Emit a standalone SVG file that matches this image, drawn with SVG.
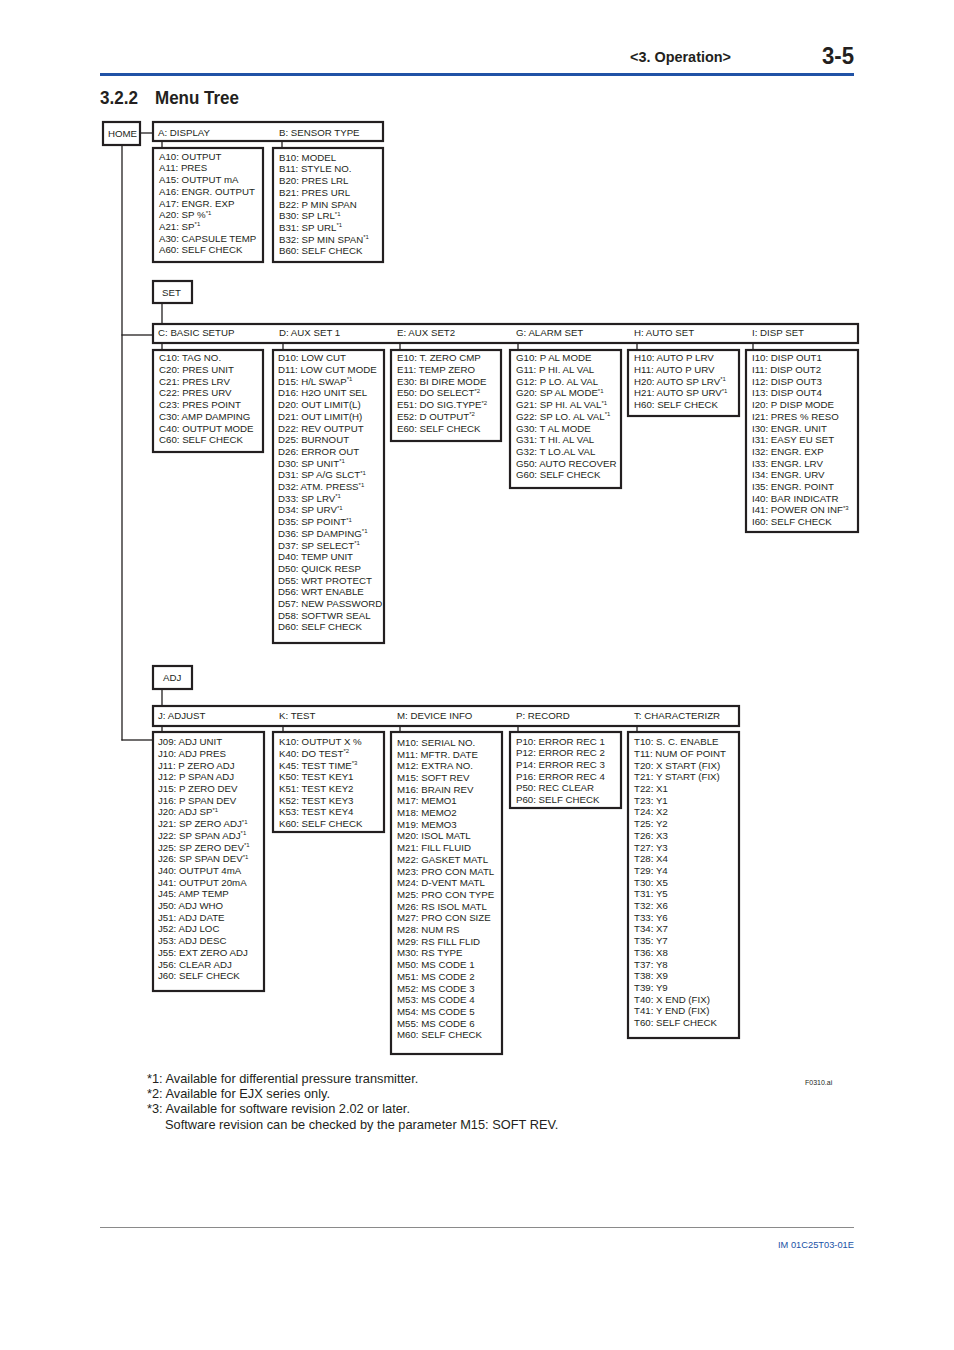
<svg xmlns="http://www.w3.org/2000/svg" width="954" height="1350" viewBox="0 0 954 1350">
<style>
.bg{fill:#fff}
.box{fill:#fff;stroke:#231f20;stroke-width:2.2}
.ln{stroke:#231f20;stroke-width:1.3;fill:none}
.t{font-family:"Liberation Sans",Arial,sans-serif;font-size:9.7px;fill:#231f20}
.s{font-size:6px}
.fn{font-family:"Liberation Sans",Arial,sans-serif;font-size:12.8px;fill:#231f20}
.hd{font-family:"Liberation Sans",Arial,sans-serif;font-weight:bold;fill:#231f20}
</style>
<rect class="bg" x="0" y="0" width="954" height="1350"/>
<g id="page-header">
<text class="hd" x="630" y="62" font-size="14.5" textLength="101" lengthAdjust="spacingAndGlyphs">&lt;3. Operation&gt;</text>
<text class="hd" x="822" y="64" font-size="23" textLength="32" lengthAdjust="spacingAndGlyphs">3-5</text>
<line x1="100" y1="74.5" x2="854" y2="74.5" stroke="#2052a6" stroke-width="3"/>
<text class="hd" x="100" y="104" font-size="17.5" textLength="38" lengthAdjust="spacingAndGlyphs">3.2.2</text>
<text class="hd" x="155" y="104" font-size="17.5" textLength="84" lengthAdjust="spacingAndGlyphs">Menu Tree</text>
</g>
<g id="connectors">
<line class="ln" x1="140" y1="133" x2="153" y2="133"/>
<line class="ln" x1="122" y1="145" x2="122" y2="740.5"/>
<line class="ln" x1="121.4" y1="335" x2="153" y2="335"/>
<line class="ln" x1="121.4" y1="740" x2="153" y2="740"/>
<line class="ln" x1="162" y1="303" x2="162" y2="324"/>
<line class="ln" x1="162" y1="689" x2="162" y2="706"/>
<line class="ln" x1="162" y1="141" x2="162" y2="148"/>
<line class="ln" x1="282" y1="141" x2="282" y2="148"/>
<line class="ln" x1="162" y1="343" x2="162" y2="350"/>
<line class="ln" x1="283" y1="343" x2="283" y2="350"/>
<line class="ln" x1="400" y1="343" x2="400" y2="350"/>
<line class="ln" x1="518" y1="343" x2="518" y2="350"/>
<line class="ln" x1="637" y1="343" x2="637" y2="350"/>
<line class="ln" x1="753" y1="343" x2="753" y2="350"/>
<line class="ln" x1="162" y1="726" x2="162" y2="732"/>
<line class="ln" x1="283" y1="726" x2="283" y2="732"/>
<line class="ln" x1="400" y1="726" x2="400" y2="732"/>
<line class="ln" x1="518" y1="726" x2="518" y2="732"/>
<line class="ln" x1="637" y1="726" x2="637" y2="732"/>
</g>
<g id="home">
<rect class="box" x="103" y="122" width="37" height="23"/>
<text class="t" x="108" y="137">HOME</text>
</g>
<g id="bar-ab">
<rect class="box" x="153" y="122" width="230" height="19"/>
<text class="t" x="158" y="136">A: DISPLAY</text>
<text class="t" x="279" y="136">B: SENSOR TYPE</text>
</g>
<g id="box-a">
<rect class="box" x="153" y="148" width="110" height="114"/>
<text class="t"><tspan x="159" y="159.7">A10: OUTPUT</tspan><tspan x="159" y="171.4">A11: PRES</tspan><tspan x="159" y="183.1">A15: OUTPUT mA</tspan><tspan x="159" y="194.8">A16: ENGR. OUTPUT</tspan><tspan x="159" y="206.5">A17: ENGR. EXP</tspan><tspan x="159" y="218.2">A20: SP %<tspan class="s" dy="-3.5">*1</tspan></tspan><tspan x="159" y="229.9">A21: SP<tspan class="s" dy="-3.5">*1</tspan></tspan><tspan x="159" y="241.6">A30: CAPSULE TEMP</tspan><tspan x="159" y="253.3">A60: SELF CHECK</tspan></text>
</g>
<g id="box-b">
<rect class="box" x="273" y="148" width="110" height="114"/>
<text class="t"><tspan x="279" y="160.7">B10: MODEL</tspan><tspan x="279" y="172.4">B11: STYLE NO.</tspan><tspan x="279" y="184.1">B20: PRES LRL</tspan><tspan x="279" y="195.8">B21: PRES URL</tspan><tspan x="279" y="207.5">B22: P MIN SPAN</tspan><tspan x="279" y="219.2">B30: SP LRL<tspan class="s" dy="-3.5">*1</tspan></tspan><tspan x="279" y="230.9">B31: SP URL<tspan class="s" dy="-3.5">*1</tspan></tspan><tspan x="279" y="242.6">B32: SP MIN SPAN<tspan class="s" dy="-3.5">*1</tspan></tspan><tspan x="279" y="254.3">B60: SELF CHECK</tspan></text>
</g>
<g id="set">
<rect class="box" x="153" y="281" width="39" height="22"/>
<text class="t" x="162" y="296">SET</text>
</g>
<g id="bar-cdeghi">
<rect class="box" x="153" y="324" width="705" height="19"/>
<text class="t" x="158" y="336">C: BASIC SETUP</text>
<text class="t" x="279" y="336">D: AUX SET 1</text>
<text class="t" x="397" y="336">E: AUX SET2</text>
<text class="t" x="516" y="336">G: ALARM SET</text>
<text class="t" x="634" y="336">H: AUTO SET</text>
<text class="t" x="752" y="336">I: DISP SET</text>
</g>
<g id="box-c">
<rect class="box" x="153" y="350" width="110" height="102"/>
<text class="t"><tspan x="159" y="361.3">C10: TAG NO.</tspan><tspan x="159" y="373">C20: PRES UNIT</tspan><tspan x="159" y="384.7">C21: PRES LRV</tspan><tspan x="159" y="396.4">C22: PRES URV</tspan><tspan x="159" y="408.1">C23: PRES POINT</tspan><tspan x="159" y="419.8">C30: AMP DAMPING</tspan><tspan x="159" y="431.5">C40: OUTPUT MODE</tspan><tspan x="159" y="443.2">C60: SELF CHECK</tspan></text>
</g>
<g id="box-d">
<rect class="box" x="273" y="350" width="111" height="293"/>
<text class="t"><tspan x="278" y="361.3">D10: LOW CUT</tspan><tspan x="278" y="373">D11: LOW CUT MODE</tspan><tspan x="278" y="384.7">D15: H/L SWAP<tspan class="s" dy="-3.5">*1</tspan></tspan><tspan x="278" y="396.4">D16: H2O UNIT SEL</tspan><tspan x="278" y="408.1">D20: OUT LIMIT(L)</tspan><tspan x="278" y="419.8">D21: OUT LIMIT(H)</tspan><tspan x="278" y="431.5">D22: REV OUTPUT</tspan><tspan x="278" y="443.2">D25: BURNOUT</tspan><tspan x="278" y="454.9">D26: ERROR OUT</tspan><tspan x="278" y="466.6">D30: SP UNIT<tspan class="s" dy="-3.5">*1</tspan></tspan><tspan x="278" y="478.3">D31: SP A/G SLCT<tspan class="s" dy="-3.5">*1</tspan></tspan><tspan x="278" y="490">D32: ATM. PRESS<tspan class="s" dy="-3.5">*1</tspan></tspan><tspan x="278" y="501.7">D33: SP LRV<tspan class="s" dy="-3.5">*1</tspan></tspan><tspan x="278" y="513.4">D34: SP URV<tspan class="s" dy="-3.5">*1</tspan></tspan><tspan x="278" y="525.1">D35: SP POINT<tspan class="s" dy="-3.5">*1</tspan></tspan><tspan x="278" y="536.8">D36: SP DAMPING<tspan class="s" dy="-3.5">*1</tspan></tspan><tspan x="278" y="548.5">D37: SP SELECT<tspan class="s" dy="-3.5">*1</tspan></tspan><tspan x="278" y="560.2">D40: TEMP UNIT</tspan><tspan x="278" y="571.9">D50: QUICK RESP</tspan><tspan x="278" y="583.6">D55: WRT PROTECT</tspan><tspan x="278" y="595.3">D56: WRT ENABLE</tspan><tspan x="278" y="607">D57: NEW PASSWORD</tspan><tspan x="278" y="618.7">D58: SOFTWR SEAL</tspan><tspan x="278" y="630.4">D60: SELF CHECK</tspan></text>
</g>
<g id="box-e">
<rect class="box" x="391" y="350" width="110" height="91"/>
<text class="t"><tspan x="397" y="361.3">E10: T. ZERO CMP</tspan><tspan x="397" y="373">E11: TEMP ZERO</tspan><tspan x="397" y="384.7">E30: BI DIRE MODE</tspan><tspan x="397" y="396.4">E50: DO SELECT<tspan class="s" dy="-3.5">*2</tspan></tspan><tspan x="397" y="408.1">E51: DO SIG.TYPE<tspan class="s" dy="-3.5">*2</tspan></tspan><tspan x="397" y="419.8">E52: D OUTPUT<tspan class="s" dy="-3.5">*2</tspan></tspan><tspan x="397" y="431.5">E60: SELF CHECK</tspan></text>
</g>
<g id="box-g">
<rect class="box" x="510" y="350" width="111" height="138"/>
<text class="t"><tspan x="516" y="361.3">G10: P AL MODE</tspan><tspan x="516" y="373">G11: P HI. AL VAL</tspan><tspan x="516" y="384.7">G12: P LO. AL VAL</tspan><tspan x="516" y="396.4">G20: SP AL MODE<tspan class="s" dy="-3.5">*1</tspan></tspan><tspan x="516" y="408.1">G21: SP HI. AL VAL<tspan class="s" dy="-3.5">*1</tspan></tspan><tspan x="516" y="419.8">G22: SP LO. AL VAL<tspan class="s" dy="-3.5">*1</tspan></tspan><tspan x="516" y="431.5">G30: T AL MODE</tspan><tspan x="516" y="443.2">G31: T HI. AL VAL</tspan><tspan x="516" y="454.9">G32: T LO.AL VAL</tspan><tspan x="516" y="466.6">G50: AUTO RECOVER</tspan><tspan x="516" y="478.3">G60: SELF CHECK</tspan></text>
</g>
<g id="box-h">
<rect class="box" x="628" y="350" width="111" height="66"/>
<text class="t"><tspan x="634" y="361.3">H10: AUTO P LRV</tspan><tspan x="634" y="373">H11: AUTO P URV</tspan><tspan x="634" y="384.7">H20: AUTO SP LRV<tspan class="s" dy="-3.5">*1</tspan></tspan><tspan x="634" y="396.4">H21: AUTO SP URV<tspan class="s" dy="-3.5">*1</tspan></tspan><tspan x="634" y="408.1">H60: SELF CHECK</tspan></text>
</g>
<g id="box-i">
<rect class="box" x="746" y="350" width="112" height="182"/>
<text class="t"><tspan x="752" y="361.3">I10: DISP OUT1</tspan><tspan x="752" y="373">I11: DISP OUT2</tspan><tspan x="752" y="384.7">I12: DISP OUT3</tspan><tspan x="752" y="396.4">I13: DISP OUT4</tspan><tspan x="752" y="408.1">I20: P DISP MODE</tspan><tspan x="752" y="419.8">I21: PRES % RESO</tspan><tspan x="752" y="431.5">I30: ENGR. UNIT</tspan><tspan x="752" y="443.2">I31: EASY EU SET</tspan><tspan x="752" y="454.9">I32: ENGR. EXP</tspan><tspan x="752" y="466.6">I33: ENGR. LRV</tspan><tspan x="752" y="478.3">I34: ENGR. URV</tspan><tspan x="752" y="490">I35: ENGR. POINT</tspan><tspan x="752" y="501.7">I40: BAR INDICATR</tspan><tspan x="752" y="513.4">I41: POWER ON INF<tspan class="s" dy="-3.5">*3</tspan></tspan><tspan x="752" y="525.1">I60: SELF CHECK</tspan></text>
</g>
<g id="adj">
<rect class="box" x="153" y="666" width="39" height="23"/>
<text class="t" x="163" y="681">ADJ</text>
</g>
<g id="bar-jkmpt">
<rect class="box" x="153" y="706" width="586" height="20"/>
<text class="t" x="158" y="719">J: ADJUST</text>
<text class="t" x="279" y="719">K: TEST</text>
<text class="t" x="397" y="719">M: DEVICE INFO</text>
<text class="t" x="516" y="719">P: RECORD</text>
<text class="t" x="634" y="719">T: CHARACTERIZR</text>
</g>
<g id="box-j">
<rect class="box" x="153" y="732" width="111" height="259"/>
<text class="t"><tspan x="158" y="745.2">J09: ADJ UNIT</tspan><tspan x="158" y="756.9">J10: ADJ PRES</tspan><tspan x="158" y="768.6">J11: P ZERO ADJ</tspan><tspan x="158" y="780.3">J12: P SPAN ADJ</tspan><tspan x="158" y="792">J15: P ZERO DEV</tspan><tspan x="158" y="803.7">J16: P SPAN DEV</tspan><tspan x="158" y="815.4">J20: ADJ SP<tspan class="s" dy="-3.5">*1</tspan></tspan><tspan x="158" y="827.1">J21: SP ZERO ADJ<tspan class="s" dy="-3.5">*1</tspan></tspan><tspan x="158" y="838.8">J22: SP SPAN ADJ<tspan class="s" dy="-3.5">*1</tspan></tspan><tspan x="158" y="850.5">J25: SP ZERO DEV<tspan class="s" dy="-3.5">*1</tspan></tspan><tspan x="158" y="862.2">J26: SP SPAN DEV<tspan class="s" dy="-3.5">*1</tspan></tspan><tspan x="158" y="873.9">J40: OUTPUT 4mA</tspan><tspan x="158" y="885.6">J41: OUTPUT 20mA</tspan><tspan x="158" y="897.3">J45: AMP TEMP</tspan><tspan x="158" y="909">J50: ADJ WHO</tspan><tspan x="158" y="920.7">J51: ADJ DATE</tspan><tspan x="158" y="932.4">J52: ADJ LOC</tspan><tspan x="158" y="944.1">J53: ADJ DESC</tspan><tspan x="158" y="955.8">J55: EXT ZERO ADJ</tspan><tspan x="158" y="967.5">J56: CLEAR ADJ</tspan><tspan x="158" y="979.2">J60: SELF CHECK</tspan></text>
</g>
<g id="box-k">
<rect class="box" x="273" y="732" width="111" height="100"/>
<text class="t"><tspan x="279" y="745.2">K10: OUTPUT X %</tspan><tspan x="279" y="756.9">K40: DO TEST<tspan class="s" dy="-3.5">*2</tspan></tspan><tspan x="279" y="768.6">K45: TEST TIME<tspan class="s" dy="-3.5">*3</tspan></tspan><tspan x="279" y="780.3">K50: TEST KEY1</tspan><tspan x="279" y="792">K51: TEST KEY2</tspan><tspan x="279" y="803.7">K52: TEST KEY3</tspan><tspan x="279" y="815.4">K53: TEST KEY4</tspan><tspan x="279" y="827.1">K60: SELF CHECK</tspan></text>
</g>
<g id="box-m">
<rect class="box" x="391" y="732" width="111" height="322"/>
<text class="t"><tspan x="397" y="745.8">M10: SERIAL NO.</tspan><tspan x="397" y="757.5">M11: MFTR. DATE</tspan><tspan x="397" y="769.2">M12: EXTRA NO.</tspan><tspan x="397" y="780.9">M15: SOFT REV</tspan><tspan x="397" y="792.6">M16: BRAIN REV</tspan><tspan x="397" y="804.3">M17: MEMO1</tspan><tspan x="397" y="816">M18: MEMO2</tspan><tspan x="397" y="827.7">M19: MEMO3</tspan><tspan x="397" y="839.4">M20: ISOL MATL</tspan><tspan x="397" y="851.1">M21: FILL FLUID</tspan><tspan x="397" y="862.8">M22: GASKET MATL</tspan><tspan x="397" y="874.5">M23: PRO CON MATL</tspan><tspan x="397" y="886.2">M24: D-VENT MATL</tspan><tspan x="397" y="897.9">M25: PRO CON TYPE</tspan><tspan x="397" y="909.6">M26: RS ISOL MATL</tspan><tspan x="397" y="921.3">M27: PRO CON SIZE</tspan><tspan x="397" y="933">M28: NUM RS</tspan><tspan x="397" y="944.7">M29: RS FILL FLID</tspan><tspan x="397" y="956.4">M30: RS TYPE</tspan><tspan x="397" y="968.1">M50: MS CODE 1</tspan><tspan x="397" y="979.8">M51: MS CODE 2</tspan><tspan x="397" y="991.5">M52: MS CODE 3</tspan><tspan x="397" y="1003.2">M53: MS CODE 4</tspan><tspan x="397" y="1014.9">M54: MS CODE 5</tspan><tspan x="397" y="1026.6">M55: MS CODE 6</tspan><tspan x="397" y="1038.3">M60: SELF CHECK</tspan></text>
</g>
<g id="box-p">
<rect class="box" x="510" y="732" width="111" height="76"/>
<text class="t"><tspan x="516" y="744.5">P10: ERROR REC 1</tspan><tspan x="516" y="756.2">P12: ERROR REC 2</tspan><tspan x="516" y="767.9">P14: ERROR REC 3</tspan><tspan x="516" y="779.6">P16: ERROR REC 4</tspan><tspan x="516" y="791.3">P50: REC CLEAR</tspan><tspan x="516" y="803">P60: SELF CHECK</tspan></text>
</g>
<g id="box-t">
<rect class="box" x="628" y="732" width="111" height="306"/>
<text class="t"><tspan x="634" y="745.2">T10: S. C. ENABLE</tspan><tspan x="634" y="756.9">T11: NUM OF POINT</tspan><tspan x="634" y="768.6">T20: X START (FIX)</tspan><tspan x="634" y="780.3">T21: Y START (FIX)</tspan><tspan x="634" y="792">T22: X1</tspan><tspan x="634" y="803.7">T23: Y1</tspan><tspan x="634" y="815.4">T24: X2</tspan><tspan x="634" y="827.1">T25: Y2</tspan><tspan x="634" y="838.8">T26: X3</tspan><tspan x="634" y="850.5">T27: Y3</tspan><tspan x="634" y="862.2">T28: X4</tspan><tspan x="634" y="873.9">T29: Y4</tspan><tspan x="634" y="885.6">T30: X5</tspan><tspan x="634" y="897.3">T31: Y5</tspan><tspan x="634" y="909">T32: X6</tspan><tspan x="634" y="920.7">T33: Y6</tspan><tspan x="634" y="932.4">T34: X7</tspan><tspan x="634" y="944.1">T35: Y7</tspan><tspan x="634" y="955.8">T36: X8</tspan><tspan x="634" y="967.5">T37: Y8</tspan><tspan x="634" y="979.2">T38: X9</tspan><tspan x="634" y="990.9">T39: Y9</tspan><tspan x="634" y="1002.6">T40: X END (FIX)</tspan><tspan x="634" y="1014.3">T41: Y END (FIX)</tspan><tspan x="634" y="1026">T60: SELF CHECK</tspan></text>
</g>
<g id="notes">
<text class="fn" x="147" y="1082.5">*1: Available for differential pressure transmitter.</text>
<text class="fn" x="147" y="1097.5">*2: Available for EJX series only.</text>
<text class="fn" x="147" y="1112.8">*3: Available for software revision 2.02 or later.</text>
<text class="fn" x="165" y="1128.5">Software revision can be checked by the parameter M15: SOFT REV.</text>
<text x="805" y="1084.5" font-family="Liberation Sans, Arial, sans-serif" font-size="7" fill="#231f20">F0310.ai</text>
</g>
<g id="page-footer">
<line x1="100" y1="1227.5" x2="854" y2="1227.5" stroke="#8a8a8a" stroke-width="1"/>
<text x="854" y="1247.5" text-anchor="end" font-family="Liberation Sans, Arial, sans-serif" font-size="9.3" fill="#2052a6">IM 01C25T03-01E</text>
</g>
</svg>
